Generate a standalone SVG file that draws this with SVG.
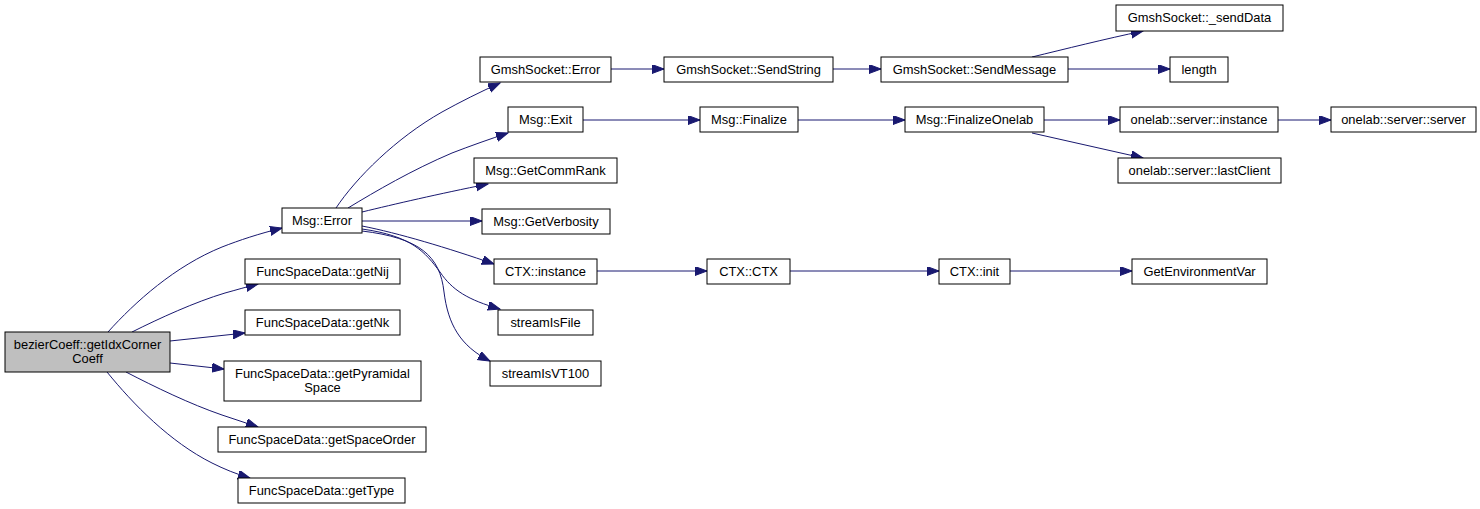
<svg xmlns="http://www.w3.org/2000/svg" width="1480" height="509" viewBox="0 0 1480 509">
<style>
.n rect{fill:#ffffff;stroke:#000000;stroke-width:1}
.n.root rect{fill:#bfbfbf}
.n text{font-family:"Liberation Sans",Arial,sans-serif;font-size:12.9px;fill:#000000;text-anchor:middle}
.e path{fill:none;stroke:#191970;stroke-width:1;marker-end:url(#arr)}
</style>
<defs>
<marker id="arr" markerUnits="userSpaceOnUse" markerWidth="14" markerHeight="11" refX="12" refY="4.5" orient="auto">
<path d="M0,0 L12,4.5 L0,9 z" fill="#191970" stroke="#191970" stroke-width="1"/>
</marker>
</defs>
<rect width="1480" height="509" fill="#ffffff"/>
<g id="edges" class="e">
<path d="M108,332 C135,302 175,266 222,247 C240,240 258,234 282,228"/>
<path d="M132,332 C160,318 195,302 225,293 C236,290 246,287 258,284"/>
<path d="M170,341 L245,333"/>
<path d="M170,363 L224,369"/>
<path d="M126,372 C155,387 190,404 222,415 C234,419 246,423 258,427"/>
<path d="M107,372 C133,404 170,442 212,463 C224,469 236,474 250,478"/>
<path d="M336,208 C356,178 396,138 442,112 C460,102 480,92 500,83"/>
<path d="M348,208 C376,191 412,170 452,153 C470,146 490,139 508,133"/>
<path d="M362,212 C395,204 438,194 488,184"/>
<path d="M362,221 L482,221"/>
<path d="M362,226 C398,233 448,248 494,264"/>
<path d="M362,229 C412,236 425,252 440,272 C452,290 468,300 500,309"/>
<path d="M362,231 C420,238 440,256 444,292 C448,324 460,346 490,361"/>
<path d="M611,69 L664,69"/>
<path d="M833,69 L881,69"/>
<path d="M1032,57 C1065,49 1105,39 1143,31"/>
<path d="M1068,69 L1170,69"/>
<path d="M583,120 L700,120"/>
<path d="M798,120 L905,120"/>
<path d="M1044,120 L1120,120"/>
<path d="M1032,133 L1143,158"/>
<path d="M1278,120 L1331,120"/>
<path d="M597,271 L707,271"/>
<path d="M790,271 L939,271"/>
<path d="M1010,271 L1132,271"/>
</g>
<g id="node_root" class="n root"><rect x="5" y="332" width="165" height="40"/><text x="87.5" y="348.5">bezierCoeff::getIdxCorner</text><text x="87.5" y="362.5">Coeff</text></g>
<g id="node_msgerror" class="n"><rect x="282" y="208" width="80" height="25"/><text x="322" y="225">Msg::Error</text></g>
<g id="node_getnij" class="n"><rect x="245" y="259" width="155" height="25"/><text x="322.5" y="276">FuncSpaceData::getNij</text></g>
<g id="node_getnk" class="n"><rect x="245" y="310" width="155" height="25"/><text x="322.5" y="327">FuncSpaceData::getNk</text></g>
<g id="node_getpyr" class="n"><rect x="224" y="361" width="197" height="40"/><text x="322.5" y="377.5">FuncSpaceData::getPyramidal</text><text x="322.5" y="391.5">Space</text></g>
<g id="node_getspaceorder" class="n"><rect x="218" y="427" width="208" height="25"/><text x="322" y="444">FuncSpaceData::getSpaceOrder</text></g>
<g id="node_gettype" class="n"><rect x="238" y="478" width="167" height="25"/><text x="321.5" y="495">FuncSpaceData::getType</text></g>
<g id="node_gmsherror" class="n"><rect x="480" y="57" width="131" height="25"/><text x="545.5" y="74">GmshSocket::Error</text></g>
<g id="node_msgexit" class="n"><rect x="508" y="107" width="75" height="25"/><text x="545.5" y="124">Msg::Exit</text></g>
<g id="node_commrank" class="n"><rect x="474" y="158" width="143" height="25"/><text x="545.5" y="175">Msg::GetCommRank</text></g>
<g id="node_verbosity" class="n"><rect x="482" y="209" width="128" height="25"/><text x="546" y="226">Msg::GetVerbosity</text></g>
<g id="node_ctxinstance" class="n"><rect x="494" y="259" width="103" height="25"/><text x="545.5" y="276">CTX::instance</text></g>
<g id="node_streamisfile" class="n"><rect x="498" y="310" width="95" height="25"/><text x="545.5" y="327">streamIsFile</text></g>
<g id="node_streamisvt100" class="n"><rect x="490" y="361" width="111" height="25"/><text x="545.5" y="378">streamIsVT100</text></g>
<g id="node_sendstring" class="n"><rect x="664" y="57" width="169" height="25"/><text x="748.5" y="74">GmshSocket::SendString</text></g>
<g id="node_finalize" class="n"><rect x="700" y="107" width="98" height="25"/><text x="749" y="124">Msg::Finalize</text></g>
<g id="node_ctxctx" class="n"><rect x="707" y="259" width="83" height="25"/><text x="748.5" y="276">CTX::CTX</text></g>
<g id="node_sendmessage" class="n"><rect x="881" y="57" width="187" height="25"/><text x="974.5" y="74">GmshSocket::SendMessage</text></g>
<g id="node_finalizeonelab" class="n"><rect x="905" y="107" width="139" height="25"/><text x="974.5" y="124">Msg::FinalizeOnelab</text></g>
<g id="node_ctxinit" class="n"><rect x="939" y="259" width="71" height="25"/><text x="974.5" y="276">CTX::init</text></g>
<g id="node_senddata" class="n"><rect x="1116" y="5" width="167" height="26"/><text x="1199.5" y="22">GmshSocket::_sendData</text></g>
<g id="node_length" class="n"><rect x="1170" y="57" width="58" height="25"/><text x="1199" y="74">length</text></g>
<g id="node_srvinstance" class="n"><rect x="1120" y="107" width="158" height="25"/><text x="1199" y="124">onelab::server::instance</text></g>
<g id="node_lastclient" class="n"><rect x="1118" y="158" width="163" height="25"/><text x="1199.5" y="175">onelab::server::lastClient</text></g>
<g id="node_getenv" class="n"><rect x="1132" y="259" width="135" height="25"/><text x="1199.5" y="276">GetEnvironmentVar</text></g>
<g id="node_srvserver" class="n"><rect x="1331" y="107" width="145" height="25"/><text x="1403.5" y="124">onelab::server::server</text></g>
</svg>
